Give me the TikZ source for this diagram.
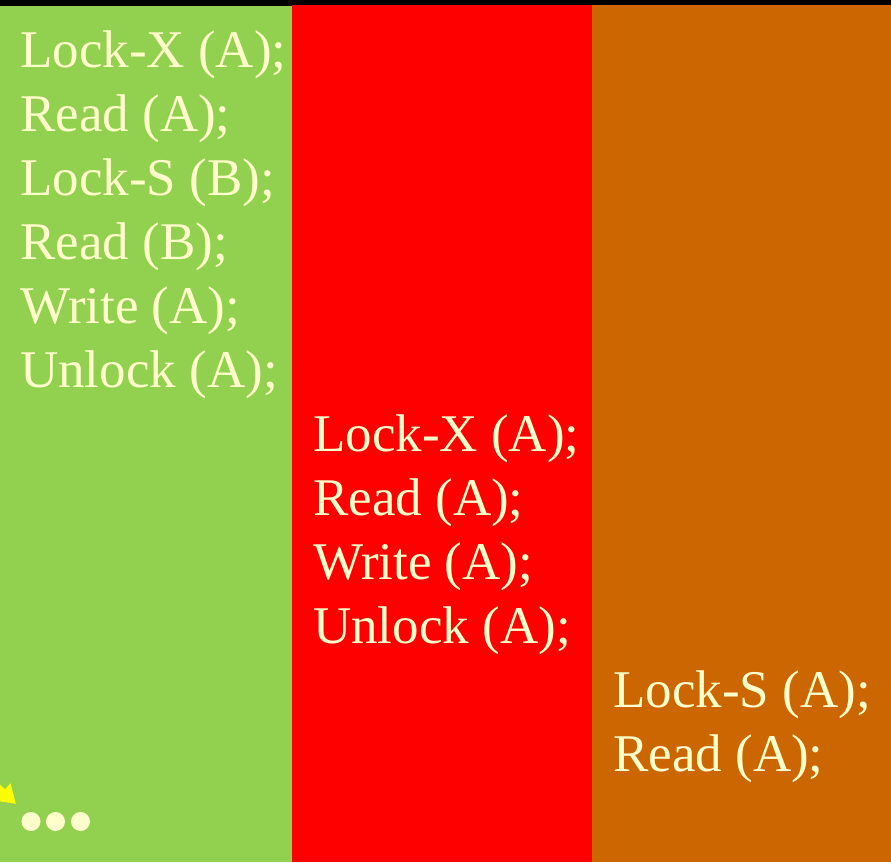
\documentclass[tikz,border=0pt]{standalone}
\usepackage{fontspec}
\setmainfont{Liberation Serif}
\usepackage{xcolor}
\usepackage{tikz}
\usetikzlibrary{arrows.meta, positioning, calc}
\definecolor{lanegreen}{HTML}{92D050}
\definecolor{lanered}{HTML}{FF0000}
\definecolor{laneorange}{HTML}{CC6600}
\definecolor{cream}{HTML}{FFFFCC}
\definecolor{pointer}{HTML}{FFFF00}

\tikzset{
  lane/.style={draw=none},
  stmt/.style={anchor=base west, inner sep=0pt, text=cream,
    font=\fontsize{53}{64}\selectfont},
  dot/.style={circle, fill=cream, minimum size=19pt, inner sep=0pt},
}

\begin{document}
\begin{tikzpicture}[x=1pt, y=-1pt]
  \useasboundingbox (0,0) rectangle (891,862);
  \fill[black] (0,0) rectangle (891,862);
  % transaction lanes
  \fill[lane, lanegreen] (0,6) rectangle (292,862);
  \fill[lane, lanered] (292,5) rectangle (592,862);
  \fill[lane, laneorange] (592,5) rectangle (891,862);

  % T1
  \foreach \txt [count=\i] in {Lock-X (A);, Read (A);, Lock-S (B);, Read (B);, Write (A);, Unlock (A);}
    \node[stmt] (ta\i) at (20, {67+64*(\i-1)}) {\txt};
  % T2
  \foreach \txt [count=\i] in {Lock-X (A);, Read (A);, Write (A);, Unlock (A);}
    \node[stmt] (tb\i) at (313, {451+64*(\i-1)}) {\txt};
  % T3
  \foreach \txt [count=\i] in {Lock-S (A);, Read (A);}
    \node[stmt] (tc\i) at (613, {707+64*(\i-1)}) {\txt};

  % pointer and ellipsis
  \coordinate (ptail) at (-30,762);
  \coordinate (ptip) at (16,804);
  \draw[pointer, line width=7pt, -{Triangle[length=18pt, width=22pt]}] (ptail) -- (ptip);
  \foreach \x [count=\i] in {31, 55.5, 80.5}
    \node[dot] (dot\i) at (\x, 821.5) {};
\end{tikzpicture}
\end{document}
